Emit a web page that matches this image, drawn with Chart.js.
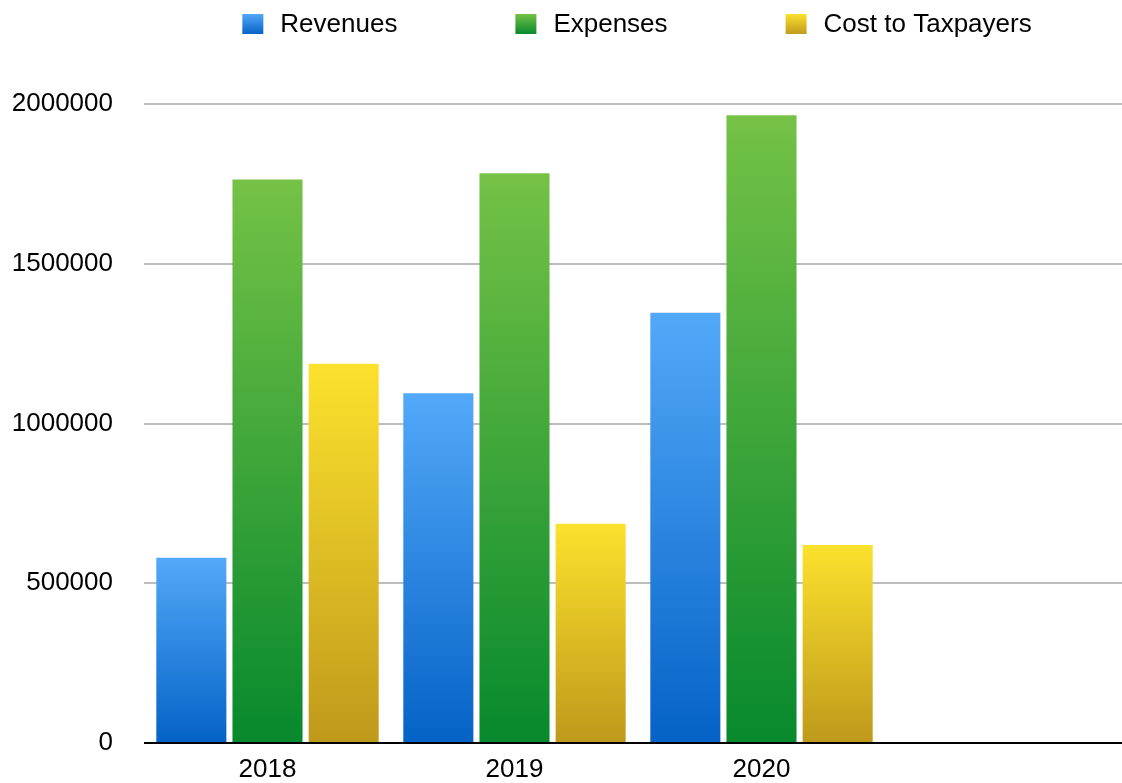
<!DOCTYPE html>
<html>
<head>
<meta charset="utf-8">
<script src="https://cdn.jsdelivr.net/npm/chart.js@4/dist/chart.umd.min.js"></script>
<style>
  html, body { margin: 0; padding: 0; background: #fff; overflow: hidden; }
  #wrap { width: 1132px; height: 783px; position: relative; }
</style>
</head>
<body>
<div id="wrap"><canvas id="c"></canvas></div>
<script>
const categories = ['2018', '2019', '2020', ''];
const revenues = [580000, 1095000, 1347000, null];
const expenses = [1764000, 1783000, 1965000, null];
const costToTaxpayers = [1187000, 686000, 620000, null];
const yTicks = [0, 500000, 1000000, 1500000, 2000000];

const seriesNames = ['Revenues', 'Expenses', 'Cost to Taxpayers'];
const gradStops = [
  ['#53a9f9', '#0562c6'],
  ['#75c246', '#07892d'],
  ['#fce22d', '#bf991b']
];
const FONT = '"Liberation Sans", Arial, Helvetica, sans-serif';

function barGradient(idx) {
  return function (ctx) {
    const chart = ctx.chart;
    if (!chart.chartArea || ctx.type !== 'data' || ctx.raw == null) return gradStops[idx][0];
    const ys = chart.scales.y;
    const top = ys.getPixelForValue(ctx.raw);
    const bottom = ys.getPixelForValue(0);
    const g = chart.ctx.createLinearGradient(0, top, 0, bottom);
    g.addColorStop(0, gradStops[idx][0]);
    g.addColorStop(1, gradStops[idx][1]);
    return g;
  };
}

const legendPlugin = {
  id: 'topLegend',
  afterDraw(chart) {
    const c = chart.ctx;
    const area = chart.chartArea;
    c.save();
    c.font = '26px ' + FONT;
    c.textBaseline = 'middle';
    c.fillStyle = '#000';
    const box = 21, boxGap = 17, itemGap = 118;
    const widths = seriesNames.map(t => box + boxGap + c.measureText(t).width);
    const total = widths.reduce((a, b) => a + b, 0) + itemGap * (widths.length - 1);
    let x = (area.left + area.right) / 2 - total / 2 - 1;
    const cy = 24;
    seriesNames.forEach((t, i) => {
      const g = c.createLinearGradient(0, cy - box / 2, 0, cy + box / 2);
      g.addColorStop(0, gradStops[i][0]);
      g.addColorStop(1, gradStops[i][1]);
      c.fillStyle = g;
      c.fillRect(x, cy - 10, box, 20);
      c.fillStyle = '#000';
      c.fillText(t, x + box + boxGap, cy + 1);
      x += widths[i] + itemGap;
    });
    c.restore();
  }
};

new Chart(document.getElementById('c'), {
  type: 'bar',
  data: {
    labels: categories,
    datasets: [
      { label: seriesNames[0], data: revenues, backgroundColor: barGradient(0) },
      { label: seriesNames[1], data: expenses, backgroundColor: barGradient(1) },
      { label: seriesNames[2], data: costToTaxpayers, backgroundColor: barGradient(2) }
    ]
  },
  options: {
    responsive: true,
    maintainAspectRatio: false,
    animation: false,
    layout: { padding: { top: 104, right: 0, bottom: 0, left: 0 } },
    datasets: { bar: { barPercentage: 0.92, categoryPercentage: 0.925, borderWidth: 0 } },
    plugins: {
      legend: { display: false },
      tooltip: { enabled: false }
    },
    scales: {
      x: {
        grid: { display: false, drawTicks: false },
        border: { display: false },
        ticks: { color: '#000', font: { family: FONT, size: 26 }, padding: 11, maxRotation: 0 },
        afterFit(scale) { scale.height = 40; }
      },
      y: {
        min: 0,
        max: 2000000,
        afterBuildTicks(scale) { scale.ticks = yTicks.map(v => ({ value: v })); },
        grid: {
          drawTicks: false,
          color: ctx => (ctx.tick && ctx.tick.value === 0 ? '#000' : '#bdbdbd'),
          lineWidth: 2
        },
        border: { display: false },
        ticks: {
          color: '#000',
          font: { family: FONT, size: 26 },
          padding: 31,
          callback: v => String(v)
        },
        afterFit(scale) {
          scale.width = 144;
          scale.paddingTop = 0;
          scale.paddingBottom = 0;
        }
      }
    }
  },
  plugins: [legendPlugin]
});
</script>
</body>
</html>
